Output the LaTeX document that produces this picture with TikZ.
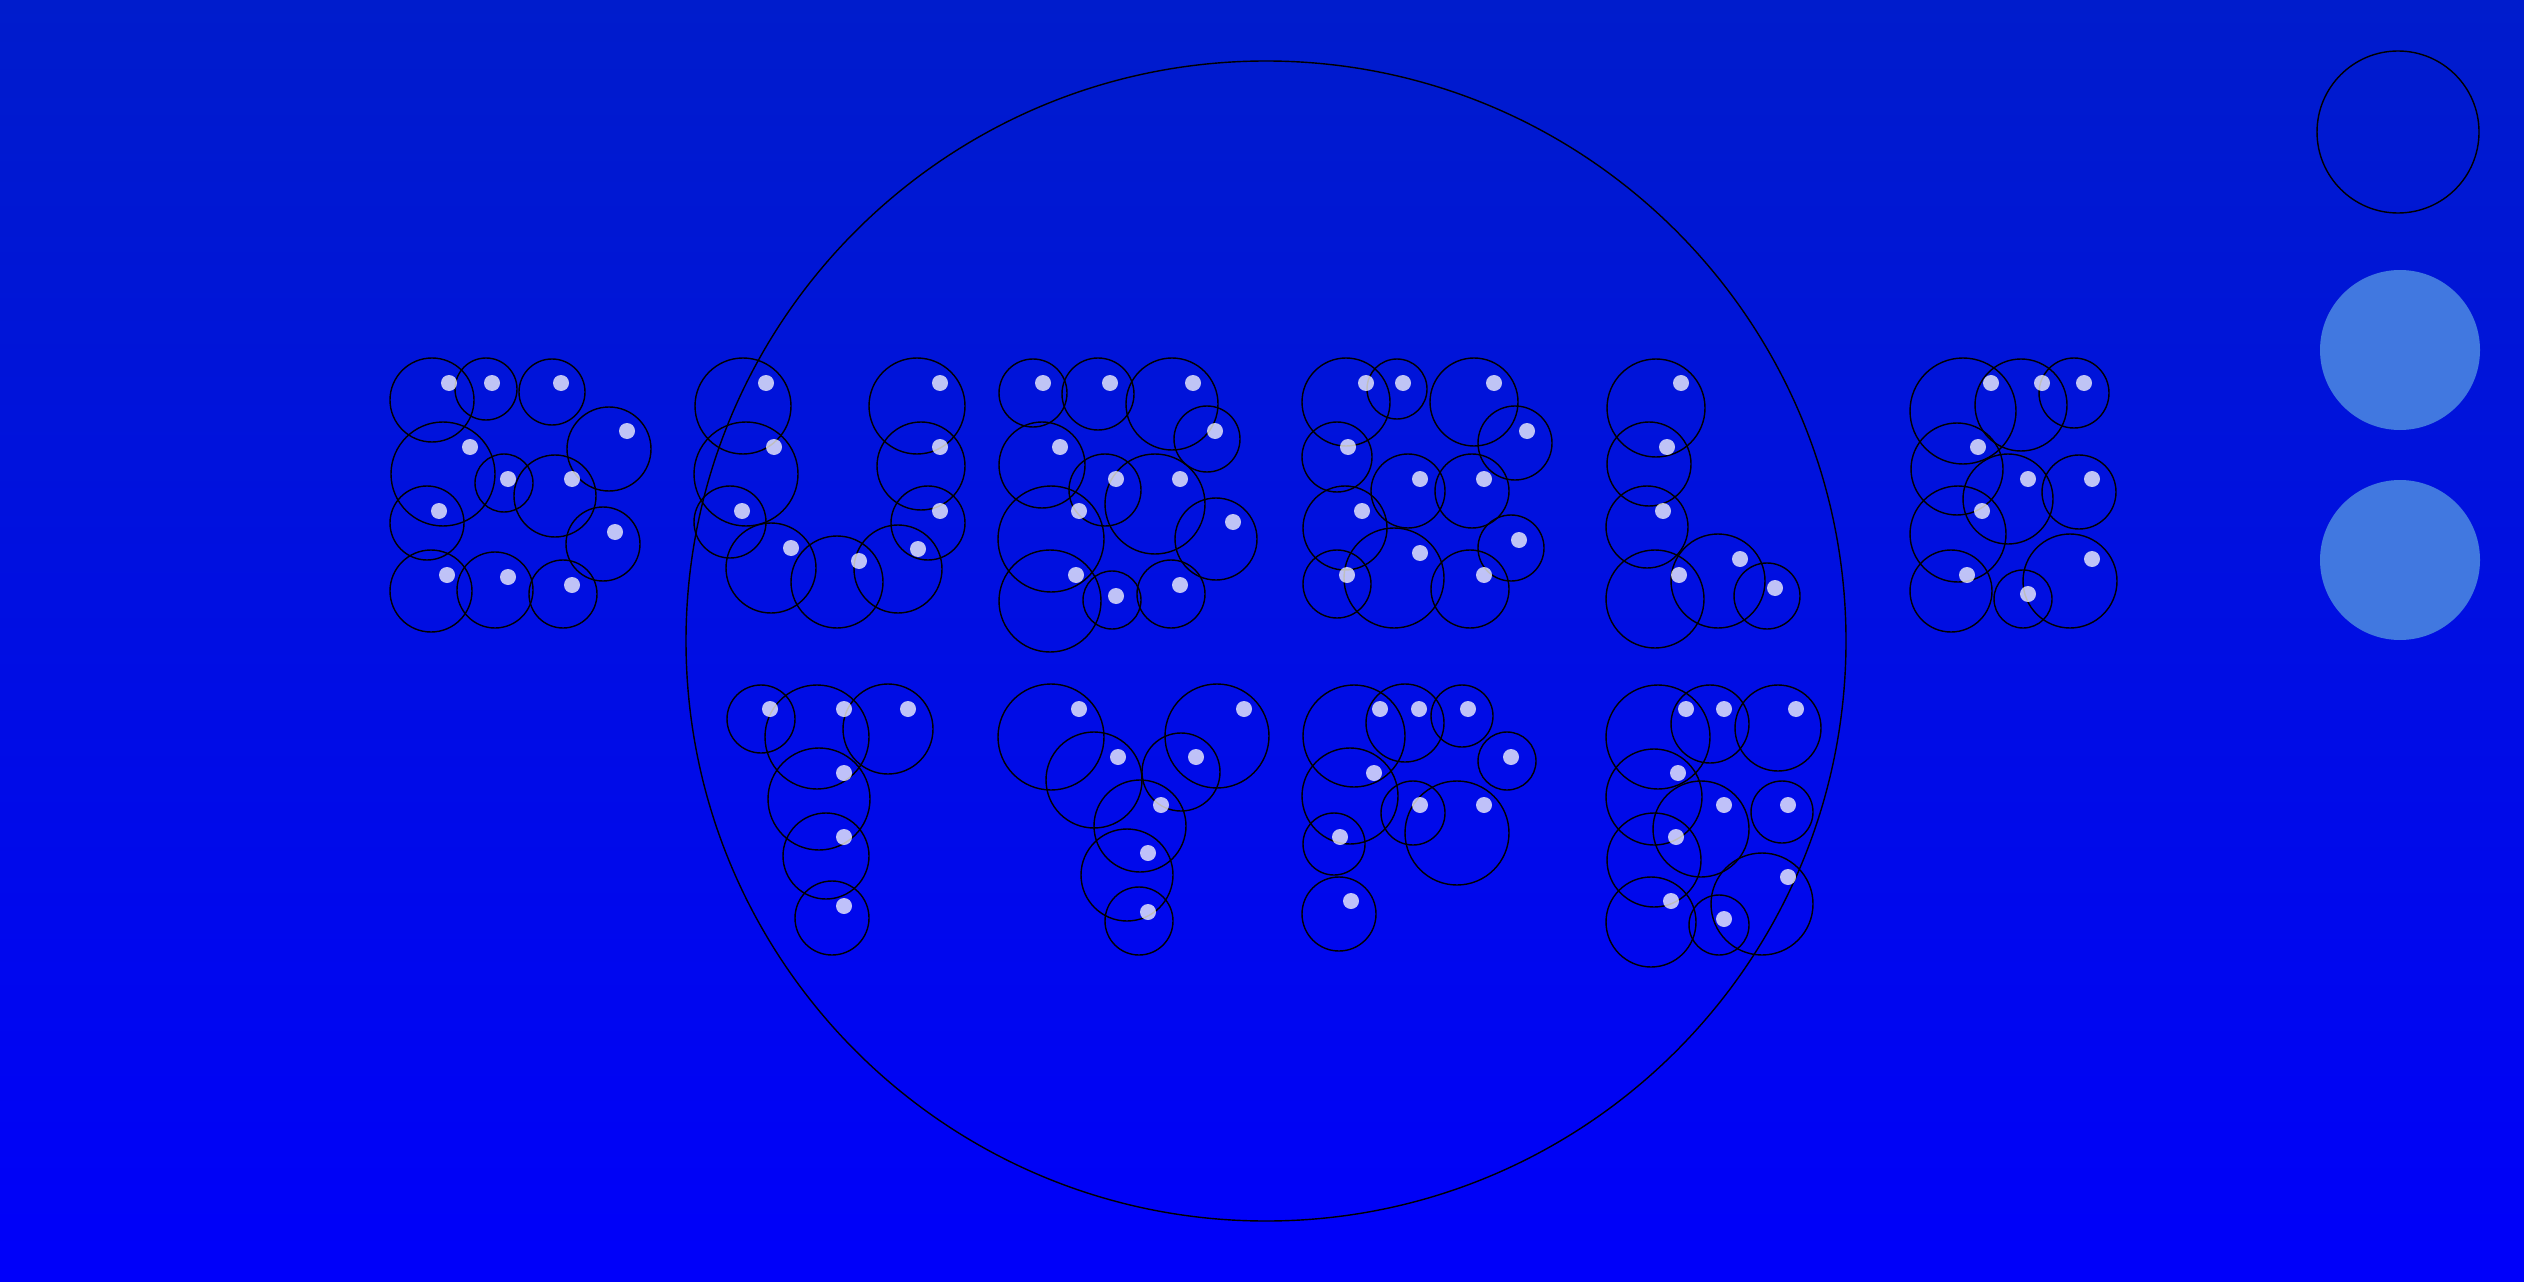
\documentclass[tikz,border=0pt]{standalone}
\usepackage{tikz}
\definecolor{bgtop}{RGB}{0,28,204}
\definecolor{bgbot}{RGB}{0,0,250}
\definecolor{knob}{RGB}{65,120,224}
\tikzset{bubble/.style={draw=black,line width=0.4pt}}
\tikzset{shine/.style={fill=white,fill opacity=0.75}}
\newcommand{\bubblelist}{%
432/400/42/449/383, 486/389/31/492/383, 552/392/33/561/383, 609/449/42/627/431,
443/474/52/470/447, 504/483/29/508/479, 555/496/41/572/479, 427/523/37/439/511,
603/544/37/615/532, 431/591/41/447/575, 495/590/38/508/577, 563/594/34/572/585,
743/406/48/766/383, 746/474/52/774/447, 730/522/36/742/511, 771/568/45/791/548,
837/582/46/859/561, 898/569/44/918/549, 928/523/37/940/511, 921/466/44/940/447,
917/406/48/940/383,
1033/393/34/1043/383, 1098/394/36/1110/383, 1172/404/46/1193/383, 1207/439/33/1215/431,
1042/465/43/1060/447, 1105/490/36/1116/479, 1155/504/50/1180/479, 1216/539/41/1233/522,
1051/539/53/1079/511, 1050/601/51/1076/575, 1112/600/29/1116/596, 1171/594/34/1180/585,
1346/402/44/1366/383, 1397/389/30/1403/383, 1474/402/44/1494/383, 1515/443/37/1527/431,
1337/457/35/1348/447, 1408/491/37/1420/479, 1472/491/37/1484/479, 1345/528/42/1362/511,
1511/548/33/1519/540, 1394/578/50/1420/553, 1337/584/34/1347/575, 1470/589/39/1484/575,
1656/408/49/1681/383, 1649/464/42/1667/447, 1647/527/41/1663/511, 1655/599/49/1679/575,
1718/581/47/1740/559, 1767/596/33/1775/588,
1963/411/53/1991/383, 2021/405/46/2042/383, 2074/393/35/2084/383, 1957/469/46/1978/447,
2008/499/45/2028/479, 2079/492/37/2092/479, 1958/534/48/1982/511, 2070/581/47/2092/559,
1951/591/41/1967/575, 2023/599/29/2028/594,
761/719/34/770/709, 817/737/52/844/709, 888/729/45/908/709, 819/799/51/844/773,
826/856/43/844/837, 832/918/37/844/906,
1051/737/53/1079/709, 1217/736/52/1244/709, 1094/780/48/1118/757, 1181/772/39/1196/757,
1140/826/46/1161/805, 1127/875/46/1148/853, 1139/921/34/1148/912,
1354/736/51/1380/709, 1405/723/39/1419/709, 1462/716/31/1468/709, 1507/761/29/1511/757,
1350/796/48/1374/773, 1413/813/32/1420/805, 1457/833/52/1484/805, 1334/844/31/1340/837,
1339/914/37/1351/901,
1658/737/52/1686/709, 1710/724/39/1724/709, 1778/728/43/1796/709, 1654/797/48/1678/773,
1701/829/48/1724/805, 1782/812/31/1788/805, 1654/860/47/1676/837, 1762/904/51/1788/877,
1651/922/45/1671/901, 1719/925/30/1724/919}

\begin{document}
\begin{tikzpicture}[x=0.01cm,y=-0.01cm]
\shade[top color=bgtop,bottom color=bgbot] (0,0) rectangle (2524,1282);
\useasboundingbox (0,0) rectangle (2524,1282);
\draw[bubble] (1266,641) circle (580);
\foreach \cx/\cy/\r/\hx/\hy in \bubblelist {\draw[bubble] (\cx,\cy) circle (\r);}
\foreach \cx/\cy/\r/\hx/\hy in \bubblelist {\fill[shine] (\hx,\hy) circle (8);}
\draw[bubble] (2398,132) circle (81);
\fill[knob] (2400,350) circle (80);
\fill[knob] (2400,560) circle (80);
\end{tikzpicture}
\end{document}
